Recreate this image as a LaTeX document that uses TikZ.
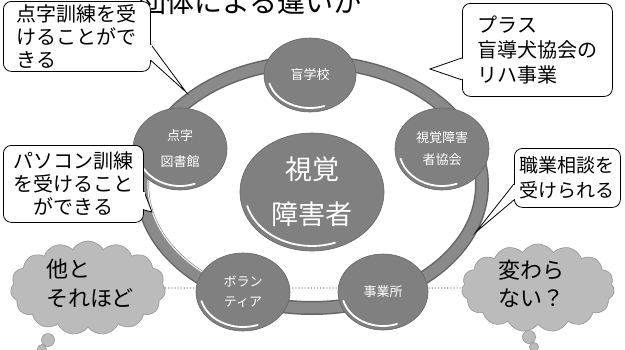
\documentclass[tikz,border=0pt]{standalone}
\usepackage{fontspec}
\setmainfont{Noto Sans CJK JP}
\usetikzlibrary{shapes.geometric,shapes.symbols,calc}
\definecolor{circgray}{HTML}{808080}
\definecolor{circedge}{HTML}{666666}
\definecolor{ringgray}{HTML}{8A8A8A}
\definecolor{ringdark}{HTML}{666666}
\definecolor{cloudgray}{HTML}{BBBBBB}
\definecolor{cloudedge}{HTML}{959595}
\newcommand\hlarc[3]{\draw[white, line width=1.8, line cap=round] ($(#1)+(195:#2 and #3)$) arc[start angle=195, end angle=290, x radius=#2, y radius=#3];}
\begin{document}
\begin{tikzpicture}[x=1pt,y=1pt,
  circ/.style={ellipse, fill=circgray, draw=circedge, line width=0.6, text=white, inner sep=0, align=center},
  callbox/.style={draw, fill=white, line width=0.8, rounded corners=8, inner sep=0},
  cloudsty/.style={cloud, cloud puffs=15, cloud puff arc=115, cloud ignores aspect, fill=cloudgray, draw=cloudedge, line width=0.6, inner sep=0},
  puff/.style={circle, fill=cloudgray, draw=cloudedge, line width=0.6, inner sep=0},
  dotline/.style={draw=cloudedge, dotted, line width=1.1},
  ptr/.style={line width=0.8, line join=miter}]
\useasboundingbox (0,0) rectangle (625,-349);
\clip (0,0) rectangle (625,-349);
\fill[white] (0,0) rectangle (625,-349);

% title (cut off at top)
\node[anchor=base, font=\fontsize{28}{28}\selectfont, inner sep=0] (title) at (250,-12) {団体による違いか};

% ring
\draw[line width=14, ringdark] (312,-185) ellipse [x radius=170, y radius=123];
\draw[line width=11, ringgray] (312,-185) ellipse [x radius=170, y radius=123];
\draw[line width=1.2, white!90!gray] (312,-185) ++(150:164 and 117) arc[start angle=150, end angle=260, x radius=164, y radius=117];

% clouds
\node[cloudsty, minimum width=155, minimum height=94] (lc) at (88,-288) {};
\node[puff, minimum size=13] (lt1) at (48,-340) {};
\node[puff, minimum size=9] (lt2) at (42,-349) {};
\node[font=\fontsize{22}{29}\selectfont, align=left, inner sep=0] (lct) at (90,-283) {他と\\それほど};
\node[cloudsty, minimum width=153, minimum height=88] (rc) at (538,-288) {};
\node[puff, minimum size=13] (rt1) at (529,-337) {};
\node[puff, minimum size=9] (rt2) at (534,-347) {};
\node[font=\fontsize{22}{28}\selectfont, align=left, inner sep=0] (rct) at (531,-284) {変わら\\ない？};

% dotted line
\draw[dotline] (lc.east) -- (rc.west);

% circles
\node[circ, minimum width=92, minimum height=74, font=\fontsize{13}{15}\selectfont] (moga) at (310,-75) {盲学校};
\hlarc{moga}{42}{33}
\node[circ, minimum width=94, minimum height=82, font=\fontsize{13}{26}\selectfont] (tenji) at (180,-149) {点字\\図書館};
\hlarc{tenji}{43}{37}
\node[circ, minimum width=94, minimum height=82, font=\fontsize{13}{22}\selectfont] (kyokai) at (442,-149) {視覚障害\\者協会};
\hlarc{kyokai}{43}{37}
\node[circ, minimum width=144, minimum height=118, font=\fontsize{27}{45}\selectfont] (center) at (312,-192) {視覚\\障害者};
\hlarc{center}{67}{54}
\node[circ, minimum width=94, minimum height=78, font=\fontsize{13}{20}\selectfont] (vol) at (243,-292) {ボラン\\ティア};
\hlarc{vol}{43}{35}
\node[circ, minimum width=90, minimum height=76, font=\fontsize{13}{15}\selectfont] (jigyo) at (383,-292) {事業所};
\hlarc{jigyo}{41}{34}

% callouts
\node[callbox, minimum width=147, minimum height=70, anchor=north west, align=left, font=\fontsize{20}{23}\selectfont] (tl) at (3,-1) {点字訓練を受\\けることがで\\きる};
\coordinate (tlp) at (186,-92);
\fill[white] ([yshift=-8]tl.east) -- (tlp) -- ([yshift=-24]tl.east) -- cycle;
\draw[ptr] ([yshift=-8]tl.east) -- (tlp) -- ([yshift=-24]tl.east);
\draw[white, line width=1.8] ([yshift=-8.6]tl.east) -- ([yshift=-23.4]tl.east);

\node[callbox, minimum width=150, minimum height=93, anchor=north west, align=left, font=\fontsize{20}{25}\selectfont] (tr) at (462,-3) {プラス\hphantom{盲導犬}\\盲導犬協会の\\リハ事業};
\coordinate (trp) at (430,-69);
\fill[white] ([yshift=-8]tr.west) -- (trp) -- ([yshift=-30]tr.west) -- cycle;
\draw[ptr] ([yshift=-8]tr.west) -- (trp) -- ([yshift=-30]tr.west);
\draw[white, line width=1.8] ([yshift=-8.6]tr.west) -- ([yshift=-29.4]tr.west);

\node[callbox, minimum width=140, minimum height=77, anchor=north west, align=center, font=\fontsize{20}{23}\selectfont] (lb) at (3,-145) {パソコン訓練\\を受けること\\ができる};
\coordinate (lbp) at (152,-212);
\fill[white] ([yshift=-7]lb.east) -- (lbp) -- ([yshift=-26]lb.east) -- cycle;
\draw[ptr] ([yshift=-7]lb.east) -- (lbp) -- ([yshift=-26]lb.east);
\draw[white, line width=1.8] ([yshift=-7.6]lb.east) -- ([yshift=-25.4]lb.east);

\node[callbox, minimum width=106, minimum height=59, anchor=north west, align=center, font=\fontsize{19}{25}\selectfont] (rb) at (514,-148) {職業相談を\\受けられる};
\coordinate (rbp) at (476,-232);
\fill[white] ([yshift=-6]rb.west) -- (rbp) -- ([yshift=-22]rb.west) -- cycle;
\draw[ptr] ([yshift=-6]rb.west) -- (rbp) -- ([yshift=-22]rb.west);
\draw[white, line width=1.8] ([yshift=-6.6]rb.west) -- ([yshift=-21.4]rb.west);
\end{tikzpicture}
\end{document}
